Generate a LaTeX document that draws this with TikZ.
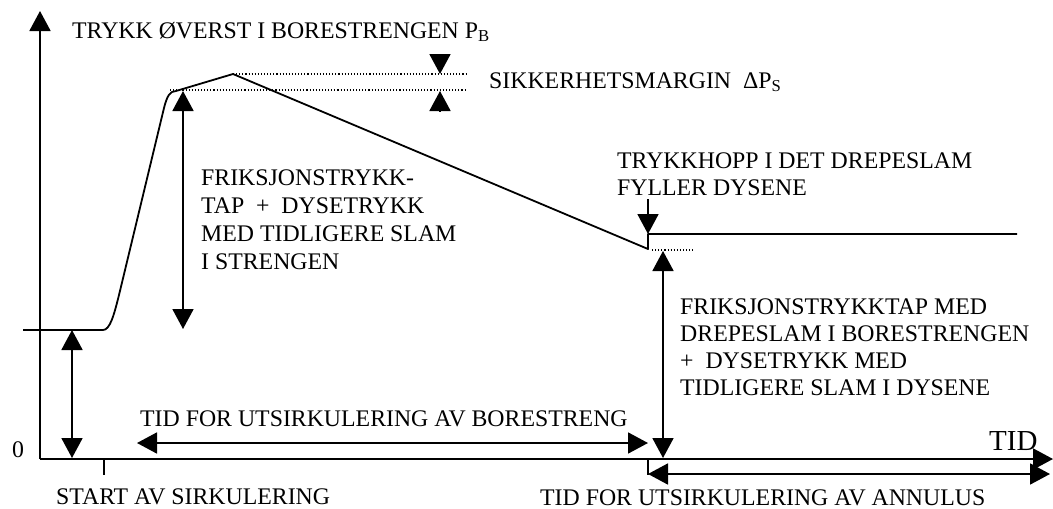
\documentclass[tikz,border=0pt]{standalone}
\usepackage{fontspec}
\setmainfont{Liberation Serif}
\usetikzlibrary{arrows.meta}
\begin{document}
\begin{tikzpicture}[x=1pt,y=-1pt,
  line/.style={line width=1.8pt},
  arr/.style={line width=1.8pt,-{Triangle[width=21pt,length=20pt]}},
  darr/.style={line width=1.8pt,{Triangle[width=21pt,length=20pt]}-{Triangle[width=21pt,length=20pt]}},
  dots/.style={line width=1.1pt,dash pattern=on 1.1pt off 2pt},
  txt/.style={inner sep=0pt,anchor=base west,font=\fontsize{23.8}{27.8}\selectfont,align=left}]
\path[use as bounding box] (0,0) rectangle (1053,509);
% coordinates
\coordinate (o) at (40,459);
\coordinate (ytop) at (40,11);
\coordinate (xend) at (1053,459);
\coordinate (tick1a) at (104,459); \coordinate (tick1b) at (104,475);
\coordinate (tick2a) at (648,459); \coordinate (tick2b) at (648,475);
\coordinate (p0) at (23,330);
\coordinate (p1) at (176,91);
\coordinate (peak) at (233,74);
\coordinate (low) at (648,249);
\coordinate (jump) at (648,234);
\coordinate (pend) at (1017,234);
\coordinate (d1e) at (467,90);
\coordinate (d2e) at (467,74);
\coordinate (d3s) at (652,250); \coordinate (d3e) at (695,250);
% axes
\draw[arr] (o) -- (ytop);
\draw[arr] (o) -- (xend);
\draw[line] (tick1a) -- (tick1b);
\draw[line] (tick2a) -- (tick2b);
% pressure curve
\draw[line,line join=round] (p0) -- (103,330) .. controls (110,330) and (114,315) .. (119,295)
  -- (164,108) .. controls (167,96) and (170,91) .. (p1) -- (peak) -- (low) -- (jump) -- (pend);
% dotted guides
\draw[dots] (170,90) -- (d1e);
\draw[dots] (peak) -- (d2e);
\draw[dots] (d3s) -- (d3e);
% margin arrows
\coordinate (m1s) at (440,54); \coordinate (m1e) at (440,74);
\coordinate (m2s) at (440,111); \coordinate (m2e) at (440,91);
\draw[arr] (m1s) -- (m1e);
\draw[arr] (m2s) -- (m2e);
% jump arrow
\coordinate (j1) at (648,199);
\draw[arr] (j1) -- (jump);
% vertical double arrows
\coordinate (a1t) at (183,91); \coordinate (a1b) at (183,329);
\draw[darr] (a1b) -- (a1t);
\coordinate (a2t) at (72,330); \coordinate (a2b) at (72,458);
\draw[darr] (a2b) -- (a2t);
\coordinate (a3t) at (663,251); \coordinate (a3b) at (663,458);
\draw[darr] (a3b) -- (a3t);
% horizontal double arrows
\coordinate (h1l) at (137,443); \coordinate (h1r) at (648,443);
\draw[darr] (h1l) -- (h1r);
\coordinate (h2l) at (648,474); \coordinate (h2r) at (1050,474);
\draw[darr] (h2l) -- (h2r);
% labels (multi-line nodes anchored at the baseline of their last line)
\node[txt] (lab1) at (72,38) {TRYKK ØVERST I BORESTRENGEN P\textsubscript{B}};
\node[txt] (lab2) at (489,88) {SIKKERHETSMARGIN \ ΔP\textsubscript{S}};
\node[txt,font=\fontsize{23.8}{27}\selectfont] (lab3) at (617,195) {TRYKKHOPP I DET DREPESLAM\\FYLLER DYSENE};
\node[txt] (lab4) at (201,269) {FRIKSJONSTRYKK-\\TAP \ + \ DYSETRYKK\\MED TIDLIGERE SLAM\\I STRENGEN};
\node[txt,font=\fontsize{23.8}{26.7}\selectfont] (lab5) at (680,395) {FRIKSJONSTRYKKTAP MED\\DREPESLAM I BORESTRENGEN\\+ \ DYSETRYKK MED\\TIDLIGERE SLAM I DYSENE};
\node[txt] (lab6) at (140,426) {TID FOR UTSIRKULERING AV BORESTRENG};
\node[txt] (lab7) at (56,504) {START AV SIRKULERING};
\node[txt] (lab8) at (540,505) {TID FOR UTSIRKULERING AV ANNULUS};
\node[txt] (lab0) at (12,457) {0};
\node[txt,font=\fontsize{29}{30}\selectfont] (labt) at (989,450) {TID};
\end{tikzpicture}
\end{document}
